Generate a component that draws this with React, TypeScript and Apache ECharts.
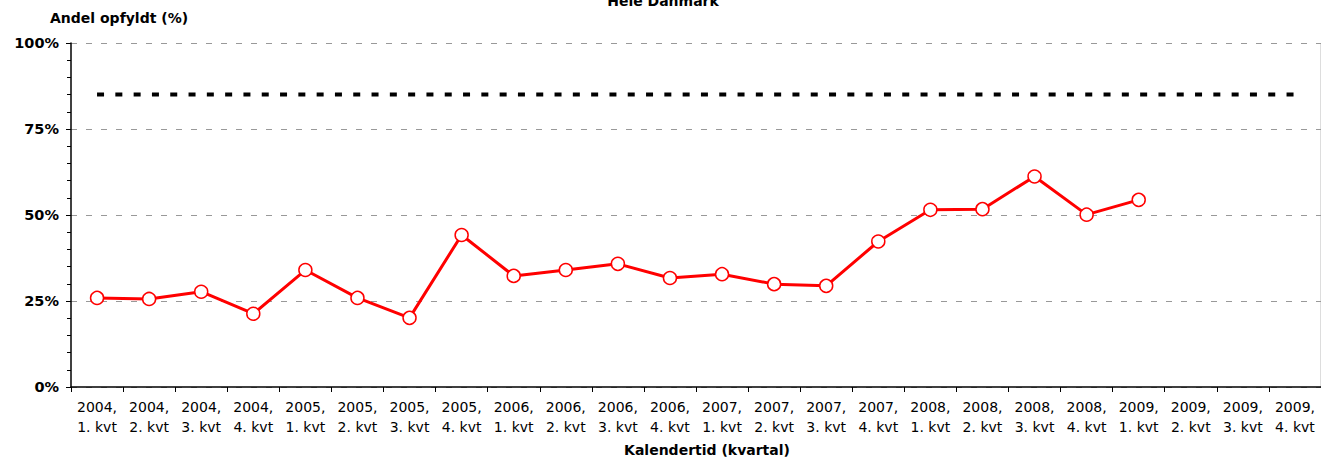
import React, { useEffect, useRef } from "react";
import * as echarts from "echarts";

const categories = [
  "2004,\n1. kvt", "2004,\n2. kvt", "2004,\n3. kvt", "2004,\n4. kvt",
  "2005,\n1. kvt", "2005,\n2. kvt", "2005,\n3. kvt", "2005,\n4. kvt",
  "2006,\n1. kvt", "2006,\n2. kvt", "2006,\n3. kvt", "2006,\n4. kvt",
  "2007,\n1. kvt", "2007,\n2. kvt", "2007,\n3. kvt", "2007,\n4. kvt",
  "2008,\n1. kvt", "2008,\n2. kvt", "2008,\n3. kvt", "2008,\n4. kvt",
  "2009,\n1. kvt", "2009,\n2. kvt", "2009,\n3. kvt", "2009,\n4. kvt",
];

const andelOpfyldt: (number | null)[] = [
  25.9, 25.6, 27.7, 21.3,
  34.0, 25.9, 20.1, 44.2,
  32.3, 34.0, 35.8, 31.7,
  32.8, 29.9, 29.4, 42.3,
  51.5, 51.7, 61.2, 50.1,
  54.4, null, null, null,
];

const maal: number[] = categories.map(() => 85);

const FONT = "DejaVu Sans";

export default function App() {
  const ref = useRef<HTMLDivElement>(null);
  useEffect(() => {
    if (!ref.current) return;
    document.body.style.margin = "0";
    const chart = echarts.init(ref.current, null, { renderer: "svg" });
    chart.setOption({
      animation: false,
      textStyle: { fontFamily: FONT },
      grid: { left: 71, right: 0, top: 43, bottom: 72, containLabel: false },
      graphic: [
        {
          type: "text",
          x: 663,
          y: 8,
          style: {
            text: "Hele Danmark",
            font: `bold 14px '${FONT}'`,
            fill: "#000",
            textAlign: "center",
            textVerticalAlign: "bottom",
          },
        },
        {
          type: "text",
          x: 50,
          y: 18,
          style: {
            text: "Andel opfyldt (%)",
            font: `bold 14px '${FONT}'`,
            fill: "#000",
            textAlign: "left",
            textVerticalAlign: "middle",
          },
        },
        {
          type: "text",
          x: 707,
          y: 450,
          style: {
            text: "Kalendertid (kvartal)",
            font: `bold 14px '${FONT}'`,
            fill: "#000",
            textAlign: "center",
            textVerticalAlign: "middle",
          },
        },
        {
          type: "line",
          shape: { x1: 1320.5, y1: 43, x2: 1320.5, y2: 387 },
          style: { stroke: "#ddd", lineWidth: 1 },
        },
      ],
      xAxis: {
        type: "category",
        data: categories,
        boundaryGap: true,
        axisLine: { show: true, lineStyle: { color: "#000", width: 1.5 } },
        axisTick: { show: true, alignWithLabel: false, length: 5, lineStyle: { color: "#000" } },
        axisLabel: {
          interval: 0,
          color: "#000",
          fontFamily: FONT,
          fontSize: 14,
          lineHeight: 20,
          margin: 10,
        },
        splitLine: { show: false },
      },
      yAxis: {
        type: "value",
        min: 0,
        max: 100,
        interval: 25,
        axisLine: { show: true, lineStyle: { color: "#000", width: 1.5 } },
        axisTick: { show: true, length: 5, lineStyle: { color: "#000" } },
        minorTick: { show: true, splitNumber: 5, length: 4, lineStyle: { color: "#000" } },
        axisLabel: {
          color: "#000",
          fontFamily: FONT,
          fontWeight: "bold",
          fontSize: 14.5,
          margin: 12,
          formatter: (v: number) => `${v}%`,
        },
        splitLine: { show: true, lineStyle: { color: "#999", type: [6, 9], width: 1 } },
      },
      series: [
        {
          name: "Mål",
          type: "line",
          data: maal,
          symbol: "none",
          lineStyle: { color: "#000", width: 4, type: [7, 11.3] },
          z: 2,
        },
        {
          name: "Andel opfyldt",
          type: "line",
          data: andelOpfyldt,
          symbol: "circle",
          symbolSize: 13,
          connectNulls: false,
          lineStyle: { color: "#ff0000", width: 3 },
          itemStyle: { color: "#fff", borderColor: "#ff0000", borderWidth: 1.5 },
          z: 3,
        },
      ],
    });
    return () => chart.dispose();
  }, []);
  return <div ref={ref} style={{ width: 1321, height: 459 }} />;
}
